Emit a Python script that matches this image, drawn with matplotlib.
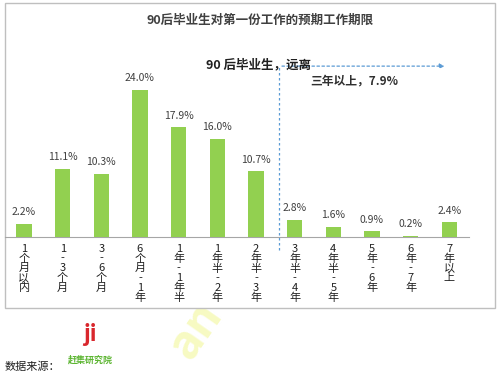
import matplotlib.pyplot as plt
from matplotlib.patches import Rectangle

plt.rcParams['font.family'] = ['Noto Sans CJK SC', 'DejaVu Sans']

categories = ['1个月以内', '1-3个月', '3-6个月', '6个月-1年', '1年-1年半', '1年半-2年',
              '2年半-3年', '3年半-4年', '4年半-5年', '5年-6年', '6年-7年', '7年以上']
values = [2.2, 11.1, 10.3, 24.0, 17.9, 16.0, 10.7, 2.8, 1.6, 0.9, 0.2, 2.4]
title = '90后毕业生对第一份工作的预期工作期限'
note1 = '90 后毕业生，远离'
note2 = '三年以上，7.9%'

fig = plt.figure(figsize=(5, 3.77), dpi=100)

# watermark under the frame
fig.text(195 / 500, 1 - 330 / 377, 'an', ha='center', va='center', fontsize=34,
         fontweight='bold', rotation=55, color='#f2f79a', alpha=0.6, zorder=0)

# chart frame
fig.patches.append(Rectangle((5 / 500, 1 - 308 / 377), 490 / 500, 305 / 377,
                             transform=fig.transFigure, facecolor='white',
                             edgecolor='#bfbfbf', linewidth=1, zorder=0.5))

ax = fig.add_axes([4.65 / 500, 1 - 237 / 377, 464 / 500, 177 / 377])
ax.set_zorder(2)
ax.set_facecolor('none')
x = range(len(values))
ax.bar(x, values, width=0.4, color='#92d050', zorder=3)
for i, v in zip(x, values):
    ax.text(i, v + 1.1, f'{v:.1f}%', ha='center', va='bottom', fontsize=7.5, color='#404040')

ax.set_xlim(-0.5, 11.5)
ax.set_ylim(0, 28.9)
ax.set_yticks([])
ax.set_xticks(list(x))
ax.set_xticklabels(['\n'.join(c) for c in categories], fontsize=8, linespacing=0.95,
                   va='top', color='#202020')
ax.tick_params(axis='x', length=0, pad=5)
for s in ['top', 'left', 'right']:
    ax.spines[s].set_visible(False)
ax.spines['bottom'].set_color('#a6a6a6')

# dashed marker line and arrow
ax.plot([6.6, 6.6], [-2.1, 27.9], ls=(0, (2, 2)), color='#5b9bd5', lw=0.9, clip_on=False)
ax.annotate('', xy=(10.95, 27.9), xytext=(6.6, 27.9), annotation_clip=False,
            arrowprops=dict(arrowstyle='-|>', color='#5b9bd5', lw=0.9,
                            linestyle=(0, (2, 2)), mutation_scale=7))
ax.text(6.07, 28.1, note1, ha='center', va='center', fontsize=9, fontweight='bold', color='#202020')
ax.text(8.55, 25.4, note2, ha='center', va='center', fontsize=8.5, fontweight='bold', color='#303030')

fig.text(0.52, 1 - 20 / 377, title, ha='center', va='center', fontsize=9, fontweight='bold',
         color='#404040', zorder=3)

# source line and logo
fig.text(5 / 500, 1 - 367 / 377, '数据来源：', ha='left', va='center', fontsize=8, color='#202020')
fig.text(90 / 500, 1 - 335 / 377, 'ji', ha='center', va='center', fontsize=16,
         fontweight='bold', style='italic', color='#d9262c')
fig.text(90 / 500, 1 - 360 / 377, '赶集研究院', ha='center', va='center', fontsize=6.5,
         fontweight='bold', color='#5cb531')

fig.savefig('out.png', dpi=100)
